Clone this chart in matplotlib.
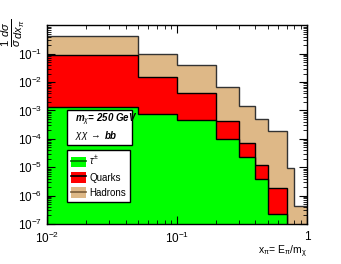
import numpy as np
import matplotlib
matplotlib.use('Agg')
from matplotlib import pyplot as plt
from matplotlib.patches import Patch
from matplotlib.lines import Line2D
from matplotlib.ticker import LogLocator, NullFormatter

plt.rcParams['font.family'] = ['Liberation Sans', 'DejaVu Sans']
plt.rcParams['mathtext.fontset'] = 'custom'
plt.rcParams['mathtext.rm'] = 'Liberation Sans'
plt.rcParams['mathtext.it'] = 'Liberation Sans:italic'
plt.rcParams['mathtext.bf'] = 'Liberation Sans:bold'

# bin edges in x_pi = E_pi/m_chi
edges = [0.01, 0.05, 0.1, 0.2, 0.3, 0.4, 0.5, 0.7, 0.8, 1.0]
# spectra per bin
hadrons = [0.43, 0.097, 0.040, 6.9e-3, 1.43e-3, 5.1e-4, 1.9e-4, 9.1e-6, 4.3e-7]
quarks = [0.090, 0.0148, 4.2e-3, 4.2e-4, 7.3e-5, 1.2e-5, 1.9e-6]
taus = [1.29e-3, 7.5e-4, 4.6e-4, 9.9e-5, 2.3e-5, 3.8e-6, 2.2e-7]

fig = plt.figure(figsize=(3.41, 2.64), dpi=100)
ax = fig.add_axes([0.139, 0.1515, 0.761, 0.7525])

base = 1e-7
ax.stairs(hadrons, edges, baseline=base, fill=True, color='#deb887')
ax.stairs(hadrons, edges, baseline=base, color='#333333', lw=1)
ax.stairs(quarks, edges[:len(quarks) + 1], baseline=base, fill=True, color='#ff0000')
ax.stairs(quarks, edges[:len(quarks) + 1], baseline=base, color='black', lw=1)
ax.stairs(taus, edges[:len(taus) + 1], baseline=base, fill=True, color='#00ff00')
ax.stairs(taus, edges[:len(taus) + 1], baseline=base, color='black', lw=1)

ax.set_xscale('log')
ax.set_yscale('log')
ax.set_xlim(0.01, 1)
ax.set_ylim(1e-7, 1)

ax.set_xticks([0.01, 0.1, 1])
ax.set_xticklabels(['$10^{-2}$', '$10^{-1}$', '1'])
ax.set_yticks([1e-7, 1e-6, 1e-5, 1e-4, 1e-3, 1e-2, 1e-1])
ax.set_yticklabels(['$10^{-%d}$' % i for i in range(7, 0, -1)])
ax.xaxis.set_minor_locator(LogLocator(base=10, subs=np.arange(2, 10), numticks=20))
ax.yaxis.set_minor_locator(LogLocator(base=10, subs=np.arange(2, 10), numticks=20))
ax.xaxis.set_minor_formatter(NullFormatter())
ax.yaxis.set_minor_formatter(NullFormatter())
ax.tick_params(which='both', direction='in', top=True, right=True, labelsize=8.5)
ax.tick_params(axis='x', pad=5)
ax.tick_params(which='major', length=6)
ax.tick_params(which='minor', length=3)
for s in ax.spines.values():
    s.set_linewidth(1)

# label box
ax.add_patch(plt.Rectangle((0.075, 0.398), 0.251, 0.176, transform=ax.transAxes,
                           facecolor='white', edgecolor='black', lw=1, zorder=4))
ax.text(0.105, 0.523, r'm$_{\chi}$= 250 GeV', transform=ax.transAxes, fontsize=7,
        fontweight='bold', style='italic', va='center', zorder=5)
ax.text(0.105, 0.443, r'$\chi\chi\ \rightarrow$', transform=ax.transAxes, fontsize=7,
        va='center', zorder=5)
ax.text(0.222, 0.443, 'bb', transform=ax.transAxes, fontsize=7,
        fontweight='bold', style='italic', va='center', zorder=5)

h_tau = (Patch(facecolor='#00ff00'), Line2D([], [], color='#006600', lw=1.2))
h_q = (Patch(facecolor='#ff0000'), Line2D([], [], color='black', lw=1.2))
h_h = (Patch(facecolor='#deb887'), Line2D([], [], color='#7a5c3a', lw=1.2))
leg = ax.legend([h_tau, h_q, h_h], [r'$\tau^{\pm}$', 'Quarks', 'Hadrons'],
                loc='upper left', bbox_to_anchor=(0.075, 0.372), fontsize=7,
                fancybox=False, edgecolor='black', framealpha=1,
                handlelength=1.6, handleheight=1.3, labelspacing=0.5,
                borderpad=0.4, handletextpad=0.3, borderaxespad=0)
leg.get_frame().set_linewidth(1)
leg.set_zorder(5)

fig.text(0.04, 0.93, r'$\frac{1}{\sigma}\frac{d\sigma}{dx_{\pi}}$', rotation=90,
         fontsize=11.5, ha='center', va='top')
fig.text(0.9, 0.045, r'$\mathrm{x_{\pi}}$= $\mathrm{E_{\pi}/m_{\chi}}$', fontsize=7.5,
         ha='right', va='center')

fig.savefig('out.png', dpi=100)
